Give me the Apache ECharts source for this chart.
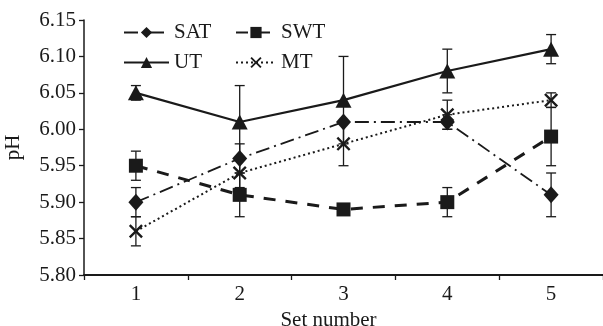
<!DOCTYPE html>
<html><head><meta charset="utf-8">
<script src="https://cdn.jsdelivr.net/npm/echarts@6/dist/echarts.min.js"></script>
<style>html,body{margin:0;padding:0;background:#fff}#c{width:603px;height:326px}</style>
</head><body><div id="c"></div>
<script>
const categories = ['1','2','3','4','5'];
const satValues = [5.90, 5.96, 6.01, 6.01, 5.91];
const swtValues = [5.95, 5.91, 5.89, 5.90, 5.99];
const utValues  = [6.05, 6.01, 6.04, 6.08, 6.11];
const mtValues  = [5.86, 5.94, 5.98, 6.02, 6.04];
const satErr = [0.02, 0.02, 0.00, 0.01, 0.03];
const swtErr = [0.02, 0.03, 0.00, 0.02, 0.04];
const utErr  = [0.01, 0.05, 0.06, 0.03, 0.02];
const mtErr  = [0.02, 0.02, 0.03, 0.02, 0.01];

const INK = '#1a1a1a';
const FONT = "'Liberation Serif','DejaVu Serif',serif";
const FS = 21;
const crossPath = 'path://M0,1.2L1.2,0L5,3.8L8.8,0L10,1.2L6.2,5L10,8.8L8.8,10L5,6.2L1.2,10L0,8.8L3.8,5Z';

function errSeries(name, vals, errs) {
  return {
    type: 'custom', name: name, z: 1, silent: true,
    data: vals.map((v, i) => [i, v, errs[i]]),
    renderItem: function (params, api) {
      const x = api.value(0), v = api.value(1), e = api.value(2);
      if (!e) return null;
      const top = api.coord([x, v + e]);
      const bot = api.coord([x, v - e]);
      const w = 5;
      const st = { stroke: INK, lineWidth: 1.3 };
      return { type: 'group', children: [
        { type: 'line', shape: { x1: top[0], y1: top[1], x2: bot[0], y2: bot[1] }, style: st },
        { type: 'line', shape: { x1: top[0]-w, y1: top[1], x2: top[0]+w, y2: top[1] }, style: st },
        { type: 'line', shape: { x1: bot[0]-w, y1: bot[1], x2: bot[0]+w, y2: bot[1] }, style: st }
      ]};
    }
  };
}

function lineSeries(name, vals, symbol, size, lineStyle) {
  return {
    type: 'line', name: name, data: vals, symbol: symbol, symbolSize: size, z: 3,
    itemStyle: { color: INK, borderColor: INK, borderWidth: 0 },
    lineStyle: Object.assign({ color: INK }, lineStyle),
    emphasis: { disabled: true }
  };
}

const legendCommon = {
  orient: 'vertical', itemHeight: 14, itemGap: 9,
  textStyle: { fontFamily: FONT, fontSize: FS, color: INK },
  selectedMode: false
};

const chart = echarts.init(document.getElementById('c'), null, { renderer: 'canvas' });
chart.setOption({
  animation: false,
  backgroundColor: '#fff',
  grid: { left: 84, right: 0, top: 20, bottom: 51, containLabel: false, outerBoundsMode: 'none' },
  legend: [
    Object.assign({}, legendCommon, { data: ['SAT', 'UT'], left: 118, top: 17, itemWidth: 45, itemTextGap: 10 }),
    Object.assign({}, legendCommon, { data: ['SWT', 'MT'], left: 230, top: 17, itemWidth: 40, itemTextGap: 20 })
  ],
  xAxis: {
    type: 'category', data: categories, boundaryGap: true,
    name: 'Set number', nameLocation: 'middle', nameGap: 27,
    nameTextStyle: { fontFamily: FONT, fontSize: FS, color: INK, padding: [0, 30, 0, 0] },
    axisLine: { lineStyle: { color: INK, width: 2 } },
    axisTick: { show: true, inside: false, length: 5, lineStyle: { color: INK, width: 1.3 } },
    axisLabel: { fontFamily: FONT, fontSize: FS, color: INK, margin: 9 },
    splitLine: { show: false }
  },
  yAxis: {
    type: 'value', min: 5.8, max: 6.15, interval: 0.05,
    name: 'pH', nameLocation: 'middle', nameGap: 60, nameRotate: 90,
    nameTextStyle: { fontFamily: FONT, fontSize: FS, color: INK },
    axisLine: { show: true, lineStyle: { color: INK, width: 1.5 } },
    axisTick: { show: true, inside: false, length: 5, lineStyle: { color: INK, width: 1.3 } },
    axisLabel: { fontFamily: FONT, fontSize: FS, color: INK, margin: 8, formatter: v => v.toFixed(2) },
    splitLine: { show: false }
  },
  series: [
    errSeries('SAT err', satValues, satErr),
    errSeries('SWT err', swtValues, swtErr),
    errSeries('UT err', utValues, utErr),
    errSeries('MT err', mtValues, mtErr),
    lineSeries('SAT', satValues, 'diamond', [15, 17], { width: 1.8, type: [14, 5, 2, 5] }),
    lineSeries('SWT', swtValues, 'rect', 14, { width: 3, type: [12, 10] }),
    lineSeries('UT', utValues, 'triangle', [16, 15], { width: 2.2, type: 'solid' }),
    lineSeries('MT', mtValues, crossPath, 14, { width: 2, type: [2, 3] })
  ]
});
</script>
</body></html>
